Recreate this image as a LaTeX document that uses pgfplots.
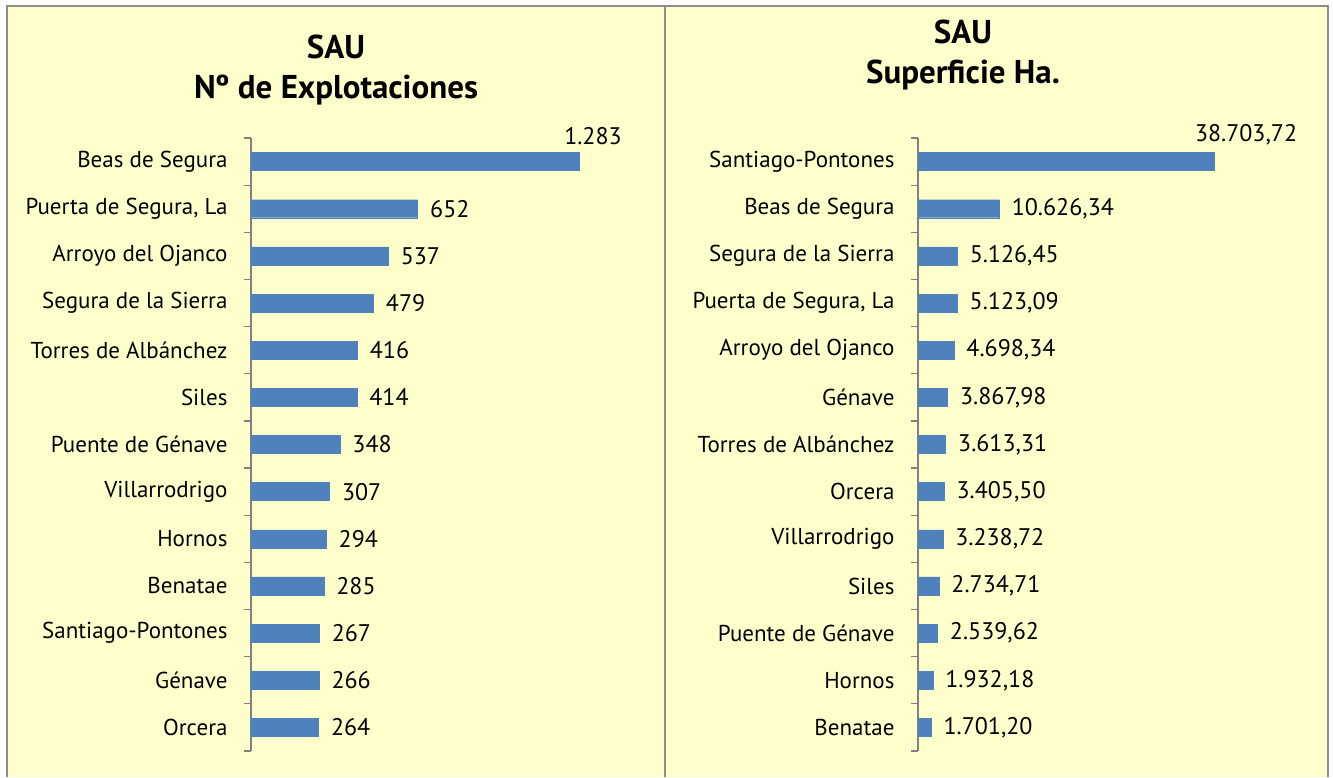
\documentclass[border=0pt]{standalone}
\usepackage{fontspec}
\setmainfont{PT Sans}
\usepackage{pgfplots}
\pgfplotsset{compat=1.18}
\definecolor{bg}{HTML}{FFFFCC}
\definecolor{barc}{HTML}{4F81BD}
\definecolor{framec}{HTML}{8C8C8C}
\begin{document}
\begin{tikzpicture}[x=1pt,y=1pt]
\useasboundingbox (0,0) rectangle (1333,777);
\fill[white] (0,0) rectangle (1333,777);
\fill[bg] (7,0) rectangle (1328,771);
\draw[framec, line width=2pt] (7,0) -- (7,771) -- (1328,771) -- (1328,0);
\draw[framec, line width=2pt] (665,0) -- (665,771);
\pgfplotsset{myax/.style={
  scale only axis, height=613pt, anchor=south west,
  ymin=-0.5, ymax=12.5, y dir=reverse, xmin=0,
  xbar, bar width=18pt, bar shift=0pt,
  axis x line=none, axis y line=left,
  y axis line style={-, draw=gray, line width=1.2pt},
  ytick={0,...,12}, major tick length=0pt,
  minor ytick={-0.5,0.5,...,12.5}, minor tick length=7pt,
  tick align=outside, minor tick style={draw=gray, line width=1.2pt},
  yticklabel style={font=\fontsize{23}{27}\selectfont, xshift=-20pt},
  nodes near coords, point meta=explicit symbolic,
  clip=false},
  lbl/.style={every node near coord/.style={font=\fontsize{24}{28}\selectfont, text=black, anchor=west, xshift=9pt}},
  toplbl/.style={every node near coord/.style={font=\fontsize{24}{28}\selectfont, text=black, anchor=south, xshift=#1, yshift=13pt}}}
\begin{axis}[myax, at={(251pt,26pt)}, width=357.9pt, xmax=1400,
  yticklabels={Beas de Segura,{Puerta de Segura, La},Arroyo del Ojanco,Segura de la Sierra,Torres de Albánchez,Siles,Puente de Génave,Villarrodrigo,Hornos,Benatae,Santiago-Pontones,Génave,Orcera}]
\addplot[fill=barc, draw=barc, toplbl=14pt] coordinates {(1283,0) [1.283]};
\addplot[fill=barc, draw=barc, lbl] coordinates {
(652,1) [652]
(537,2) [537]
(479,3) [479]
(416,4) [416]
(414,5) [414]
(348,6) [348]
(307,7) [307]
(294,8) [294]
(285,9) [285]
(267,10) [267]
(266,11) [266]
(264,12) [264]
};
\end{axis}
\begin{axis}[myax, at={(918pt,26pt)}, width=344.2pt, xmax=45000,
  yticklabels={Santiago-Pontones,Beas de Segura,Segura de la Sierra,{Puerta de Segura, La},Arroyo del Ojanco,Génave,Torres de Albánchez,Orcera,Villarrodrigo,Siles,Puente de Génave,Hornos,Benatae}]
\addplot[fill=barc, draw=barc, toplbl=32pt] coordinates {(38703.72,0) [{38.703,72}]};
\addplot[fill=barc, draw=barc, lbl] coordinates {
(10626.34,1) [{10.626,34}]
(5126.45,2) [{5.126,45}]
(5123.09,3) [{5.123,09}]
(4698.34,4) [{4.698,34}]
(3867.98,5) [{3.867,98}]
(3613.31,6) [{3.613,31}]
(3405.50,7) [{3.405,50}]
(3238.72,8) [{3.238,72}]
(2734.71,9) [{2.734,71}]
(2539.62,10) [{2.539,62}]
(1932.18,11) [{1.932,18}]
(1701.20,12) [{1.701,20}]
};
\end{axis}
\node[font=\bfseries\fontsize{33}{40}\selectfont, align=center] at (336,707) {SAU\\Nº de Explotaciones};
\node[font=\bfseries\fontsize{33}{40}\selectfont, align=center] at (963,722) {SAU\\Superficie Ha.};
\end{tikzpicture}
\end{document}
